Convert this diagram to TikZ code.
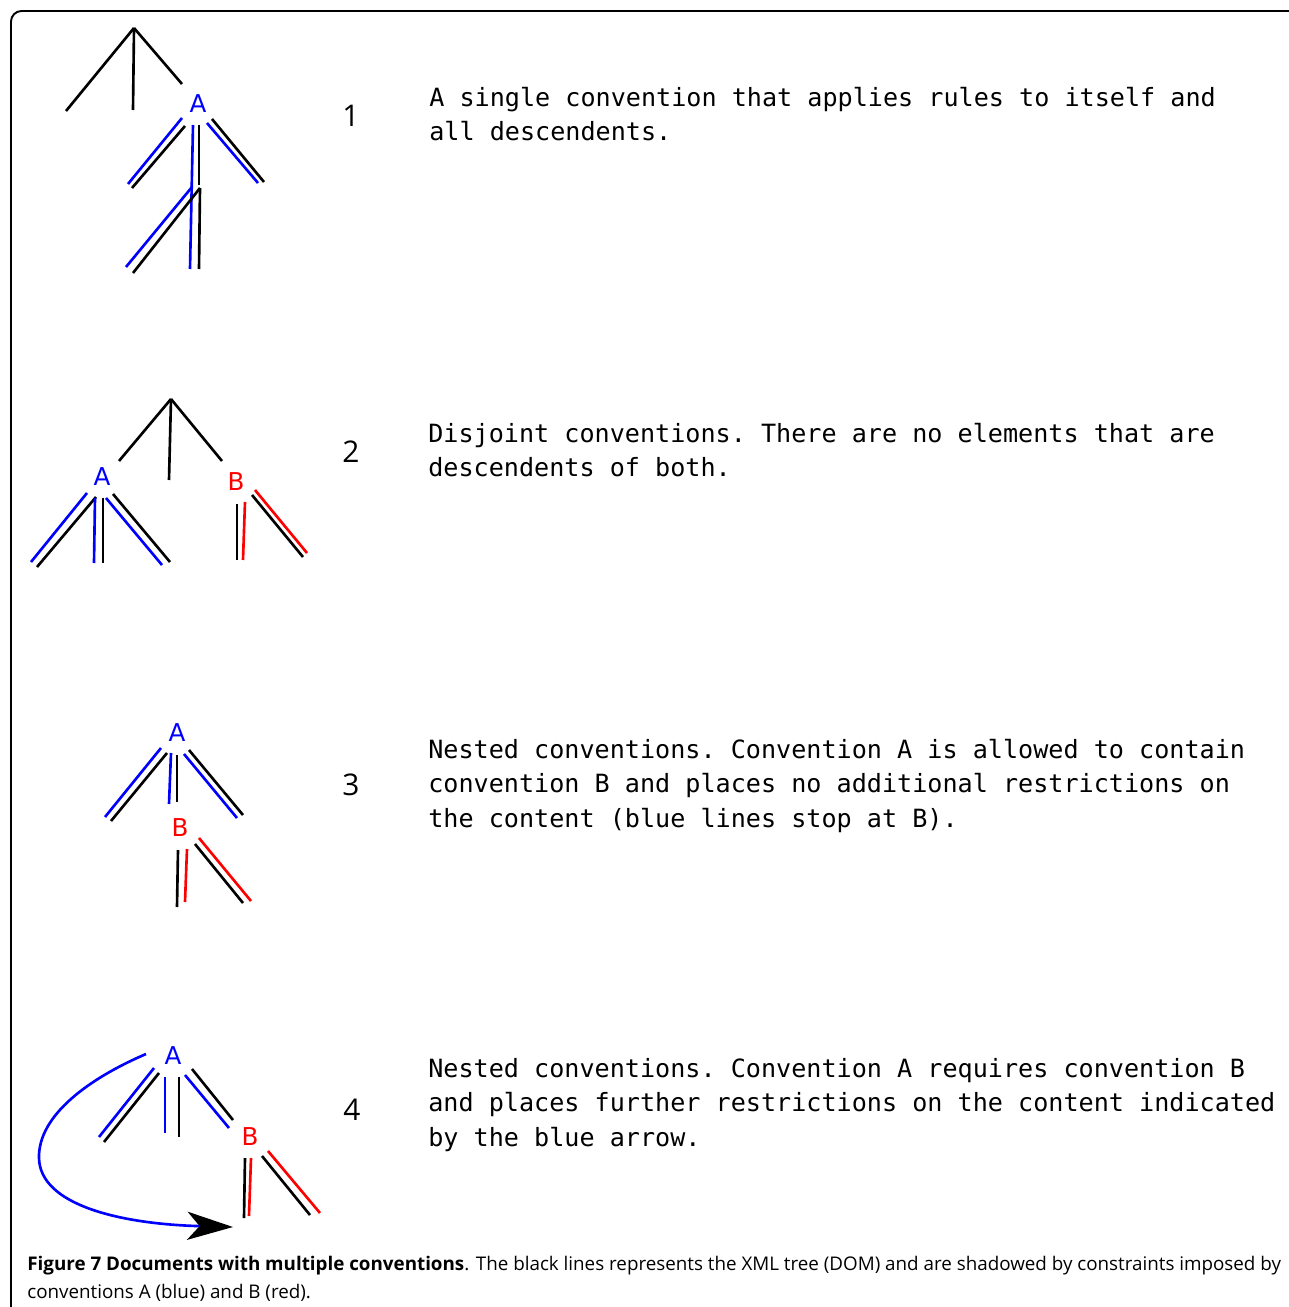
\documentclass[tikz,border=0pt]{standalone}
\usepackage{fontspec}
\setmainfont{Open Sans}
\setsansfont{DejaVu Sans}
\setmonofont{DejaVu Sans Mono}
\usetikzlibrary{arrows.meta}

\begin{document}
\begin{tikzpicture}[x=0.02cm,y=-0.02cm,
	dom/.style={line width=1.5pt},
	convA/.style={blue, line width=1.5pt},
	convB/.style={red, line width=1.5pt},
	lbl/.style={font=\sffamily\fontsize{14}{16}\selectfont, inner sep=0pt},
	num/.style={font=\rmfamily\fontsize{17}{20}\selectfont, inner sep=0pt},
	descr/.style={anchor=base west, align=left, inner sep=0pt, font=\ttfamily\fontsize{14.3}{19.6}\selectfont}]
	\useasboundingbox (0,0) rectangle (1288,1307);
	\draw[line width=1.1pt, rounded corners=6pt] (11,1310) -- (11,11) -- (1291,11);

	% 1: one convention
	\draw[dom] (134,28) to (66,111);
	\draw[dom] (134,28) to (133,110);
	\draw[dom] (134,28) to (182,84);
	\node[lbl, blue] (A1) at (198,104) {A};
	\draw[dom] (185,126) to (132,188);
	\draw[convA] (182,118) to (128,184);
	\draw[dom] (199,125) to (199,185);
	\draw[convA] (193,125) to (190,269);
	\draw[dom] (212,119) to (264,182);
	\draw[convA] (207,123) to (258,183);
	\draw[dom] (200,188) to (133,273);
	\draw[dom] (200,188) to (199,269);
	\draw[convA] (192,187) to (126,267);
	\node[num] (n1) at (351,116) {1};
	\node[descr] (t1) at (429,140.5) {A single convention that applies rules to itself and\\all descendents.};

	% 2: disjoint
	\draw[dom] (171,399) to (119,461);
	\draw[dom] (171,399) to (169,480);
	\draw[dom] (171,399) to (222,461);
	\node[lbl, blue] (A2) at (102,477) {A};
	\node[lbl, red] (B2) at (236,482) {B};
	\draw[dom] (96,497) to (37,567);
	\draw[convA] (87,493) to (31,562);
	\draw[dom] (103,498) to (103,563);
	\draw[convA] (95,498) to (94,563);
	\draw[dom] (113,494) to (170,562);
	\draw[convA] (106,498) to (162,565);
	\draw[dom] (237,504) to (237,560);
	\draw[convB] (245,502) to (243,560);
	\draw[dom] (252,495) to (303,557);
	\draw[convB] (255,490) to (307,553);
	\node[num] (n2) at (351,452) {2};
	\node[descr] (t2) at (428,476.5) {Disjoint conventions. There are no elements that are\\descendents of both.};

	% 3: nested, B free
	\node[lbl, blue] (A3) at (177,733) {A};
	\draw[dom] (167,753) to (111,821);
	\draw[convA] (161,748) to (105,817);
	\draw[dom] (177,755) to (177,802);
	\draw[convA] (171,753) to (169,804);
	\draw[dom] (189,750) to (243,815);
	\draw[convA] (184,754) to (237,818);
	\node[lbl, red] (B3) at (180,828) {B};
	\draw[dom] (178,850) to (177,907);
	\draw[convB] (187,849) to (185,902);
	\draw[dom] (195,844) to (243,903);
	\draw[convB] (199,838) to (251,901);
	\node[num] (n3) at (351,785) {3};
	\node[descr] (t3) at (428,827) {Nested conventions. Convention A is allowed to contain\\convention B and places no additional restrictions on\\the content (blue lines stop at B).};

	% 4: nested, B required
	\node[lbl, blue] (A4) at (173,1056) {A};
	\draw[dom] (159,1073) to (104,1142);
	\draw[convA] (154,1068) to (99,1137);
	\draw[convA] (165,1077) to (165,1133);
	\draw[dom] (179,1077) to (179,1137);
	\draw[dom] (192,1069) to (233,1120);
	\draw[convA] (185,1075) to (229,1128);
	\node[lbl, red] (B4) at (250,1137) {B};
	\draw[dom] (245,1158) to (244,1218);
	\draw[convB] (251,1158) to (249,1216);
	\draw[dom] (262,1156) to (310,1215);
	\draw[convB] (268,1151) to (320,1213);
	\coordinate (from4) at (146,1054);
	\coordinate (to4) at (233,1227);
	\draw[convA, -{Stealth[length=26pt, width=16pt, inset=7pt, color=black]}] (from4) .. controls (90,1078) and (38,1115) .. (39,1158) .. controls (40,1205) and (120,1224) .. (to4);
	\node[num] (n4) at (352,1110) {4};
	\node[descr] (t4) at (428,1146) {Nested conventions. Convention A requires convention B\\and places further restrictions on the content indicated\\by the blue arrow.};

	% caption
	\node[anchor=base west, align=left, inner sep=0pt, font=\rmfamily\fontsize{10.7}{15.4}\selectfont] (cap) at (27,1298) {\textbf{Figure 7 Documents with multiple conventions}. The black lines represents the XML tree (DOM) and are shadowed by constraints imposed by\\conventions A (blue) and B (red).};
\end{tikzpicture}
\end{document}
